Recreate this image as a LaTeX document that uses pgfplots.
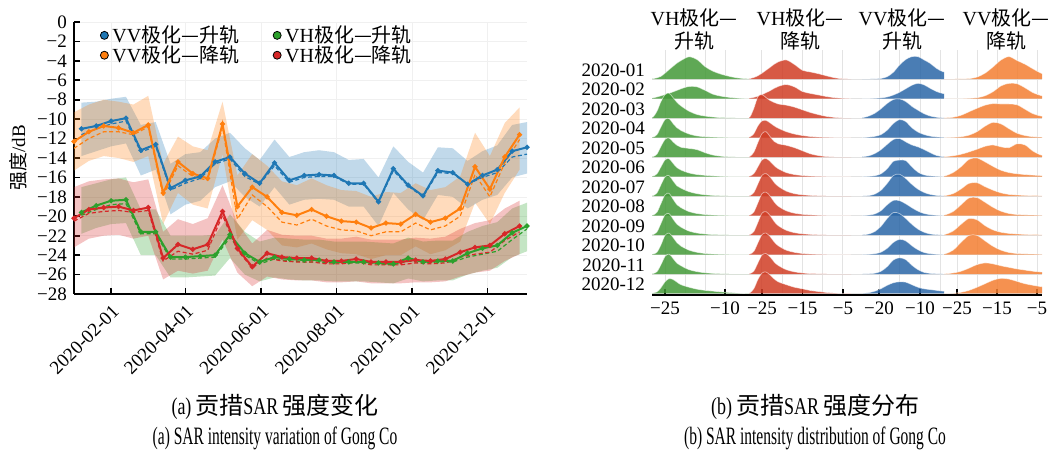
\documentclass[border=0pt]{standalone}
\usepackage{fontspec}
\setmainfont{Liberation Serif}
\newfontfamily\cjk{Noto Sans CJK SC}
\newcommand{\zh}[1]{{\cjk #1}}
\usepackage{pgfplots}
\pgfplotsset{compat=1.18}
\usepackage{pgfplotstable}
\usepgfplotslibrary{fillbetween}

\newcommand{\tk}{\fontsize{9.5}{11}\selectfont}
\newcommand{\lgf}{\fontsize{10}{11}\selectfont}

% line colours (left) and ridge colours (right)
\definecolor{tb}{RGB}{31,119,180}
\definecolor{to}{RGB}{255,127,14}
\definecolor{tg}{RGB}{44,160,44}
\definecolor{tr}{RGB}{214,39,40}
\definecolor{rg}{RGB}{67,153,55}
\definecolor{rr}{RGB}{208,61,37}
\definecolor{rb}{RGB}{42,102,167}
\definecolor{ro}{RGB}{243,126,49}

% d = day of 2020 (1 Jan = 0), m = mean, s = dashed line, lo/hi = band
\pgfplotstableread{
d m s lo hi
7 -11.0 -11.6 -13.8 -8.3
19 -10.7 -11.0 -13.3 -8.2
31 -10.2 -10.5 -12.8 -7.9
43 -9.9 -10.2 -12.5 -7.7
55 -13.2 -13.4 -15.8 -10.6
67 -12.6 -12.8 -15.2 -10.3
79 -17.1 -17.3 -19.8 -14.6
91 -16.3 -16.6 -18.8 -13.6
103 -15.9 -16.1 -18.4 -13.4
115 -14.4 -14.6 -17.0 -12.0
127 -13.9 -14.1 -16.4 -11.4
139 -15.6 -15.9 -18.0 -13.0
151 -16.6 -16.7 -19.0 -14.2
163 -14.5 -14.8 -17.0 -12.1
175 -16.3 -16.5 -18.8 -13.9
187 -15.8 -16.0 -18.3 -13.4
199 -15.7 -15.9 -18.2 -13.2
211 -15.8 -15.9 -18.3 -13.4
223 -16.6 -16.7 -19.0 -14.2
235 -16.6 -16.7 -19.0 -14.1
247 -18.5 -18.6 -21.0 -16.0
259 -15.1 -15.3 -17.6 -12.8
271 -16.8 -16.9 -19.3 -14.4
283 -17.9 -18.0 -20.4 -15.5
295 -15.3 -15.5 -17.8 -12.9
307 -15.5 -15.6 -18.0 -13.0
319 -16.7 -16.7 -19.2 -14.3
331 -15.8 -16.0 -18.3 -13.3
343 -15.2 -15.5 -17.8 -12.7
355 -13.3 -13.9 -16.0 -10.6
367 -12.9 -13.6 -15.6 -10.3
}\vva

\pgfplotstableread{
d m s lo hi
1 -12.3 -13.0 -15.3 -9.3
13 -11.3 -12.0 -14.3 -8.5
25 -10.7 -11.3 -13.8 -8.0
37 -10.9 -11.3 -14.0 -8.2
49 -11.4 -11.6 -14.4 -8.5
61 -10.6 -10.8 -13.8 -7.6
73 -17.6 -17.9 -20.8 -14.6
85 -14.4 -14.8 -17.6 -11.8
97 -15.6 -15.9 -18.8 -12.8
109 -16.1 -16.3 -19.2 -13.2
121 -10.5 -10.8 -13.6 -8.2
133 -19.0 -20.3 -22.4 -15.8
145 -17.0 -17.8 -20.4 -13.6
157 -18.0 -19.0 -21.4 -14.8
169 -19.6 -20.6 -23.0 -16.4
181 -19.9 -20.9 -23.2 -16.8
193 -19.3 -20.3 -22.8 -16.1
205 -20.0 -21.0 -23.4 -16.8
217 -20.5 -21.4 -23.8 -17.3
229 -20.6 -21.5 -23.9 -17.4
241 -21.2 -22.0 -24.4 -18.0
253 -20.7 -21.6 -24.0 -17.5
265 -20.8 -21.6 -24.0 -17.6
277 -19.8 -20.7 -23.1 -16.6
289 -20.6 -21.4 -23.9 -17.3
301 -20.2 -21.0 -23.5 -17.0
313 -19.2 -20.0 -22.6 -15.9
325 -14.9 -15.7 -18.6 -11.4
337 -17.2 -18.0 -20.8 -13.8
349 -13.9 -14.5 -17.6 -10.4
361 -11.6 -12.1 -15.2 -8.8
}\vvd

\pgfplotstableread{
d m s lo hi
7 -19.6 -19.9 -21.8 -17.0
19 -18.9 -19.3 -21.2 -16.6
31 -18.4 -18.8 -20.8 -16.2
43 -18.3 -18.7 -20.7 -16.0
55 -21.6 -21.8 -24.0 -19.3
67 -21.6 -21.8 -24.0 -19.3
79 -24.2 -24.4 -26.3 -22.0
91 -24.2 -24.4 -26.3 -22.0
103 -24.1 -24.3 -26.2 -22.0
115 -24.0 -24.2 -26.1 -21.9
127 -21.9 -22.2 -24.3 -19.8
139 -23.8 -24.0 -26.0 -21.6
151 -24.7 -24.9 -26.7 -22.6
163 -24.2 -24.4 -26.3 -22.2
175 -24.4 -24.6 -26.5 -22.3
187 -24.5 -24.7 -26.6 -22.4
199 -24.5 -24.7 -26.6 -22.4
211 -24.7 -24.8 -26.7 -22.6
223 -24.7 -24.8 -26.7 -22.6
235 -24.7 -24.8 -26.7 -22.6
247 -24.8 -24.9 -26.8 -22.7
259 -24.9 -25.0 -26.9 -22.8
271 -24.3 -24.6 -26.4 -22.2
283 -24.7 -24.8 -26.7 -22.6
295 -24.6 -24.7 -26.6 -22.5
307 -24.6 -24.7 -26.6 -22.5
319 -23.8 -24.2 -26.0 -21.6
331 -23.3 -23.9 -25.6 -21.0
343 -23.0 -23.6 -25.3 -20.6
355 -21.7 -22.4 -24.2 -19.2
367 -21.0 -21.3 -23.6 -18.6
}\vha

\pgfplotstableread{
d m s lo hi
1 -20.2 -20.5 -23.2 -17.0
13 -19.3 -19.7 -22.3 -16.4
25 -19.1 -19.5 -22.0 -16.2
37 -19.0 -19.4 -21.9 -16.1
49 -19.4 -19.6 -22.3 -16.5
61 -19.1 -19.4 -22.0 -16.2
73 -24.3 -24.6 -26.5 -21.6
85 -22.9 -23.6 -25.6 -20.3
97 -23.4 -23.9 -25.9 -20.8
109 -22.9 -23.5 -25.6 -20.2
121 -19.5 -19.9 -22.4 -16.8
133 -23.3 -23.5 -25.8 -20.7
145 -25.2 -25.3 -27.2 -22.8
157 -23.8 -24.3 -26.2 -21.4
169 -24.2 -24.6 -26.5 -21.9
181 -24.3 -24.7 -26.6 -22.0
193 -24.3 -24.7 -26.6 -22.0
205 -24.6 -24.9 -26.8 -22.3
217 -24.6 -24.9 -26.8 -22.3
229 -24.4 -24.7 -26.7 -22.1
241 -24.7 -25.0 -26.9 -22.4
253 -24.7 -25.0 -26.9 -22.4
265 -24.7 -25.0 -26.9 -22.4
277 -24.5 -24.8 -26.8 -22.2
289 -24.6 -24.9 -26.8 -22.3
301 -24.4 -24.8 -26.7 -22.1
313 -23.7 -24.2 -26.2 -21.3
325 -23.2 -23.9 -25.8 -20.7
337 -23.0 -23.7 -25.6 -20.4
349 -21.8 -22.5 -24.6 -19.2
361 -21.0 -21.6 -23.9 -18.4
}\vhd

% ridge densities: r1 = 2020-01 ... r12 = 2020-12, height in row spacings
\pgfplotstableread{
x r1 r2 r3 r4 r5 r6 r7 r8 r9 r10 r11 r12
-29 0 0 0 0 0 0 0 0 0 0 0 0
-28 0.02 0.03 0.05 0.02 0.02 0.02 0.02 0.02 0.02 0.02 0.02 0.02
-27 0.06 0.08 0.35 0.15 0.15 0.14 0.16 0.17 0.16 0.12 0.12 0.08
-26 0.14 0.14 0.85 0.55 0.55 0.50 0.58 0.62 0.60 0.50 0.48 0.30
-25 0.30 0.20 1.20 0.92 0.90 0.85 0.98 1.06 1.04 0.98 0.90 0.60
-24 0.48 0.27 1.28 0.98 0.98 0.92 1.05 1.14 1.10 1.10 1.02 0.76
-23 0.65 0.34 1.05 0.72 0.78 0.68 0.78 0.84 0.82 0.88 0.80 0.72
-22 0.82 0.42 0.80 0.50 0.60 0.45 0.52 0.55 0.55 0.60 0.55 0.58
-21 0.95 0.50 0.62 0.36 0.50 0.33 0.40 0.40 0.40 0.43 0.42 0.45
-19 1.14 0.62 0.35 0.18 0.44 0.18 0.22 0.20 0.20 0.22 0.22 0.32
-17 1.00 0.60 0.18 0.08 0.38 0.10 0.12 0.10 0.10 0.11 0.12 0.22
-15 0.64 0.42 0.10 0.04 0.22 0.06 0.06 0.05 0.05 0.05 0.06 0.16
-13 0.40 0.22 0.05 0.02 0.10 0.03 0.03 0.02 0.02 0.02 0.03 0.12
-11 0.25 0.12 0.02 0.01 0.04 0.01 0.01 0.01 0.01 0.01 0.01 0.08
-9 0.14 0.06 0.01 0 0.01 0 0 0 0 0 0 0.05
-7 0.06 0.02 0 0 0 0 0 0 0 0 0 0.02
-5 0.02 0 0 0 0 0 0 0 0 0 0 0
-3 0 0 0 0 0 0 0 0 0 0 0 0
}\kvha

\pgfplotstableread{
x r1 r2 r3 r4 r5 r6 r7 r8 r9 r10 r11 r12
-29 0 0 0 0 0 0 0 0 0 0 0 0
-28 0.02 0.02 0.05 0.03 0.03 0.02 0.02 0.02 0.02 0.02 0.02 0.03
-27 0.08 0.06 0.50 0.20 0.25 0.15 0.18 0.18 0.18 0.16 0.15 0.25
-26 0.17 0.12 1.10 0.60 0.75 0.50 0.62 0.65 0.65 0.60 0.57 0.72
-25 0.30 0.20 1.20 0.85 1.20 0.85 1.06 1.12 1.12 1.02 0.97 1.05
-24 0.45 0.30 1.05 0.88 1.30 0.92 1.15 1.20 1.20 1.10 1.05 1.10
-23 0.60 0.40 0.90 0.75 1.05 0.78 0.98 1.00 1.00 0.92 0.88 0.95
-22 0.76 0.52 0.80 0.60 0.80 0.56 0.70 0.70 0.70 0.65 0.62 0.75
-21 0.88 0.62 0.72 0.48 0.68 0.40 0.50 0.48 0.48 0.45 0.44 0.60
-19 0.98 0.72 0.66 0.30 0.60 0.20 0.25 0.24 0.24 0.22 0.22 0.45
-17 0.75 0.60 0.56 0.18 0.48 0.10 0.12 0.12 0.12 0.11 0.11 0.32
-15 0.45 0.36 0.42 0.10 0.32 0.05 0.06 0.06 0.06 0.05 0.05 0.24
-13 0.36 0.26 0.28 0.05 0.16 0.02 0.03 0.03 0.03 0.02 0.02 0.15
-11 0.27 0.18 0.17 0.02 0.07 0.01 0.01 0.01 0.01 0.01 0.01 0.10
-9 0.16 0.10 0.08 0.01 0.02 0 0 0 0 0 0 0.05
-7 0.06 0.04 0.03 0 0 0 0 0 0 0 0 0.02
-5 0.01 0.01 0 0 0 0 0 0 0 0 0 0
-3 0 0 0 0 0 0 0 0 0 0 0 0
}\kvhd

\pgfplotstableread{
x r1 r2 r3 r4 r5 r6 r7 r8 r9 r10 r11 r12
-26 0 0 0 0 0 0 0 0 0 0 0 0
-24 0 0 0.02 0 0.02 0 0 0 0.01 0 0 0.01
-22.5 0 0 0.10 0.02 0.06 0.01 0.02 0.02 0.05 0.01 0.01 0.04
-21 0.01 0.01 0.25 0.06 0.18 0.04 0.10 0.08 0.18 0.04 0.04 0.12
-19.5 0.03 0.03 0.48 0.15 0.38 0.14 0.30 0.25 0.45 0.12 0.14 0.25
-18 0.12 0.08 0.75 0.38 0.65 0.40 0.65 0.55 0.85 0.32 0.38 0.42
-16.5 0.35 0.18 0.95 0.72 0.90 0.78 1.05 0.78 1.15 0.62 0.72 0.55
-15 0.72 0.32 0.98 0.92 0.95 0.84 1.12 0.76 1.10 0.78 0.83 0.60
-13.5 1.00 0.50 0.85 0.82 0.78 0.82 0.90 0.60 0.85 0.70 0.74 0.58
-12 1.15 0.68 0.60 0.50 0.62 0.50 0.60 0.40 0.55 0.45 0.45 0.45
-10.5 1.15 0.78 0.40 0.28 0.52 0.22 0.35 0.22 0.30 0.24 0.22 0.32
-9 0.98 0.70 0.22 0.15 0.38 0.08 0.18 0.10 0.14 0.10 0.08 0.24
-7.5 0.80 0.52 0.10 0.07 0.22 0.03 0.08 0.04 0.05 0.04 0.03 0.20
-6 0.55 0.36 0.04 0.03 0.08 0.01 0.03 0.01 0.02 0.01 0.01 0.16
-4.5 0.38 0.26 0.01 0.01 0.02 0 0.01 0 0 0 0 0.12
-3 0.30 0.20 0 0 0 0 0 0 0 0 0 0.10
-1 0 0 0 0 0 0 0 0 0 0 0 0
}\kvva

\pgfplotstableread{
x r1 r2 r3 r4 r5 r6 r7 r8 r9 r10 r11 r12
-30 0 0 0 0 0 0 0 0 0 0 0 0
-28 0 0 0.01 0 0.02 0.03 0.02 0.03 0.03 0.03 0.01 0
-26 0 0 0.04 0.01 0.06 0.20 0.12 0.20 0.20 0.22 0.05 0.01
-24 0.01 0 0.14 0.04 0.14 0.50 0.36 0.55 0.55 0.62 0.14 0.06
-22 0.02 0.01 0.32 0.12 0.26 0.88 0.65 0.90 0.85 0.98 0.30 0.16
-20 0.10 0.04 0.50 0.30 0.40 0.95 0.68 0.92 0.78 0.98 0.48 0.32
-18 0.30 0.14 0.66 0.58 0.55 0.75 0.48 0.68 0.48 0.70 0.57 0.50
-16 0.62 0.35 0.74 0.78 0.62 0.52 0.30 0.42 0.26 0.42 0.52 0.68
-14 0.98 0.65 0.72 0.70 0.52 0.32 0.16 0.22 0.14 0.22 0.42 0.78
-12 1.15 0.78 0.72 0.45 0.48 0.20 0.08 0.10 0.08 0.10 0.34 0.74
-10 0.95 0.76 0.68 0.22 0.68 0.14 0.05 0.05 0.05 0.05 0.26 0.62
-8 0.76 0.55 0.45 0.10 0.62 0.10 0.03 0.03 0.03 0.03 0.20 0.50
-6 0.52 0.30 0.22 0.04 0.30 0.07 0.02 0.02 0.02 0.02 0.14 0.42
-4 0.30 0.15 0.10 0.02 0.10 0.05 0.01 0.01 0.01 0.01 0.10 0.35
-2 0.15 0.08 0.04 0.01 0.03 0.03 0 0 0 0 0.06 0.30
0 0 0 0 0 0 0 0 0 0 0 0 0
}\kvvd

\pgfplotsset{
  ridge/.style={
    anchor=south west, scale only axis, height=122.5pt,
    ymin=-0.077, ymax=12.49,
    axis x line*=bottom, axis y line*=left,
    y axis line style={draw=none},
    x axis line style={line width=0.9pt},
    ytick={0,...,11}, yticklabels={}, ytick style={draw=none},
    ymajorgrids, xmajorgrids, xminorgrids,
    major grid style={black!11, line width=0.5pt},
    minor grid style={black!11, line width=0.5pt},
    tick align=inside, major tick length=3pt, minor tick length=0pt,
    xtick style={black, line width=0.8pt},
    xticklabel style={font=\tk},
  },
  ridgefill/.style={fill=#1, fill opacity=0.85, draw=white, draw opacity=0.55, line width=0.35pt, smooth},
  band/.style={fill=#1, fill opacity=0.28, draw=none},
}

\begin{document}
\begin{tikzpicture}

% ---------- (a) time series ----------
\begin{axis}[
  at={(37pt,-147pt)}, anchor=south west,
  scale only axis, width=226.5pt, height=136pt,
  xmin=1, xmax=367, ymin=-28, ymax=0,
  axis x line*=bottom, axis y line*=left,
  axis line style={line width=0.9pt},
  tick align=inside, major tick length=3.2pt,
  tick style={black, line width=0.8pt},
  xtick={31,91,152,213,274,335},
  xticklabels={2020-02-01,2020-04-01,2020-06-01,2020-08-01,2020-10-01,2020-12-01},
  xticklabel style={rotate=45, anchor=north east, font=\tk},
  ytick={-28,-26,...,0},
  yticklabels={−28,−26,−24,−22,−20,−18,−16,−14,−12,−10,−8,−6,−4,−2,0},
  yticklabel style={font=\tk},
  ylabel={\zh{强度}/dB},
  ylabel style={font=\tk, at={(axis description cs:-0.124,0.5)}, anchor=center},
  grid=major, major grid style={black!6, line width=0.3pt},
  legend columns=2,
  legend cell align=left,
  legend style={draw=none, fill=none, at={(axis cs:22,0.1)}, anchor=north west,
    font=\lgf, inner sep=0pt, row sep=-4pt,
    /tikz/every even column/.append style={column sep=15pt}},
]
\addlegendimage{only marks, mark=*, mark size=2pt, mark options={draw=none, fill=tb}}
\addlegendentry{VV\zh{极化—升轨}}
\addlegendimage{only marks, mark=*, mark size=2pt, mark options={draw=none, fill=tg}}
\addlegendentry{VH\zh{极化—升轨}}
\addlegendimage{only marks, mark=*, mark size=2pt, mark options={draw=none, fill=to}}
\addlegendentry{VV\zh{极化—降轨}}
\addlegendimage{only marks, mark=*, mark size=2pt, mark options={draw=none, fill=tr}}
\addlegendentry{VH\zh{极化—降轨}}

% bands
\addplot[draw=none, name path=ah, forget plot] table[x=d, y=hi]{\vva};
\addplot[draw=none, name path=al, forget plot] table[x=d, y=lo]{\vva};
\addplot[band=tb, forget plot] fill between[of=ah and al];
\addplot[draw=none, name path=bh, forget plot] table[x=d, y=hi]{\vvd};
\addplot[draw=none, name path=bl, forget plot] table[x=d, y=lo]{\vvd};
\addplot[band=to, forget plot] fill between[of=bh and bl];
\addplot[draw=none, name path=ch, forget plot] table[x=d, y=hi]{\vha};
\addplot[draw=none, name path=cl, forget plot] table[x=d, y=lo]{\vha};
\addplot[band=tg, forget plot] fill between[of=ch and cl];
\addplot[draw=none, name path=dh, forget plot] table[x=d, y=hi]{\vhd};
\addplot[draw=none, name path=dl, forget plot] table[x=d, y=lo]{\vhd};
\addplot[band=tr, forget plot] fill between[of=dh and dl];

% dashed lines
\addplot[tb, line width=0.6pt, dash pattern=on 2pt off 1.3pt, forget plot] table[x=d, y=s]{\vva};
\addplot[to, line width=0.6pt, dash pattern=on 2pt off 1.3pt, forget plot] table[x=d, y=s]{\vvd};
\addplot[tg, line width=0.6pt, dash pattern=on 2pt off 1.3pt, forget plot] table[x=d, y=s]{\vha};
\addplot[tr, line width=0.6pt, dash pattern=on 2pt off 1.3pt, forget plot] table[x=d, y=s]{\vhd};
% solid lines
\addplot[tb, line width=1pt, mark=*, mark size=0.7pt, forget plot] table[x=d, y=m]{\vva};
\addplot[to, line width=1pt, mark=*, mark size=0.7pt, forget plot] table[x=d, y=m]{\vvd};
\addplot[tg, line width=1pt, mark=*, mark size=0.7pt, forget plot] table[x=d, y=m]{\vha};
\addplot[tr, line width=1pt, mark=*, mark size=0.7pt, forget plot] table[x=d, y=m]{\vhd};
\end{axis}

% ---------- (b) ridge plots ----------
\begin{axis}[ridge, at={(326pt,-147.5pt)}, width=48.5pt,
  xmin=-28.25, xmax=-4, xtick={-25,-10}, xticklabels={−25,−10},
  minor xtick={-20,-15},
  yticklabels={2020-12,2020-11,2020-10,2020-09,2020-08,2020-07,2020-06,2020-05,2020-04,2020-03,2020-02,2020-01},
  yticklabel style={font=\tk, yshift=4.4pt}]
\pgfplotsinvokeforeach{1,...,12}{
  \addplot[ridgefill=rg] table[x=x, y expr=\thisrow{r#1}+12-#1]{\kvha};
}
\end{axis}

\begin{axis}[ridge, at={(374.5pt,-147.5pt)}, width=56.5pt,
  xmin=-28.2, xmax=-0.3, xtick={-25,-15,-5}, xticklabels={−25,−15,−5},
  minor xtick={-20,-10}]
\pgfplotsinvokeforeach{1,...,12}{
  \addplot[ridgefill=rr] table[x=x, y expr=\thisrow{r#1}+12-#1]{\kvhd};
}
\end{axis}

\begin{axis}[ridge, at={(431pt,-147.5pt)}, width=41pt,
  xmin=-24.15, xmax=-4.15, xtick={-20,-10}, xticklabels={−20,−10},
  minor xtick={-15,-5}]
\pgfplotsinvokeforeach{1,...,12}{
  \addplot[ridgefill=rb] table[x=x, y expr=\thisrow{r#1}+12-#1]{\kvva};
}
\end{axis}

\begin{axis}[ridge, at={(472pt,-147.5pt)}, width=49pt,
  xmin=-28.25, xmax=-3.75, xtick={-25,-15,-5}, xticklabels={−25,−15,−5},
  minor xtick={-20,-10}]
\pgfplotsinvokeforeach{1,...,12}{
  \addplot[ridgefill=ro] table[x=x, y expr=\thisrow{r#1}+12-#1]{\kvvd};
}
\end{axis}

% column titles
\begin{scope}[every node/.style={align=center, font=\fontsize{10}{11.5}\selectfont, inner sep=0pt}]
\node at (347pt,-14.5pt) {VH\zh{极化—}\\\zh{升轨}};
\node at (400pt,-14.5pt) {VH\zh{极化—}\\\zh{降轨}};
\node at (451pt,-14.5pt) {VV\zh{极化—}\\\zh{升轨}};
\node at (503pt,-14.5pt) {VV\zh{极化—}\\\zh{降轨}};
\end{scope}

% captions
\begin{scope}[every node/.style={inner sep=0pt}]
\node[font=\fontsize{12}{14}\selectfont] at (137.5pt,-203.5pt) {\scalebox{0.75}[1]{(a)}\,\zh{贡措}\scalebox{0.75}[1]{SAR}\,\zh{强度变化}};
\node[font=\fontsize{12.5}{14}\selectfont] at (137.5pt,-219pt) {\scalebox{0.62}[1]{(a) SAR intensity variation of Gong Co}};
\node[font=\fontsize{12}{14}\selectfont] at (407.5pt,-203.5pt) {\scalebox{0.75}[1]{(b)}\,\zh{贡措}\scalebox{0.75}[1]{SAR}\,\zh{强度分布}};
\node[font=\fontsize{12.5}{14}\selectfont] at (407.5pt,-219pt) {\scalebox{0.62}[1]{(b) SAR intensity distribution of Gong Co}};
\end{scope}

\pgfresetboundingbox
\path[use as bounding box] (0,0) rectangle (526pt,-226.5pt);
\end{tikzpicture}
\end{document}
